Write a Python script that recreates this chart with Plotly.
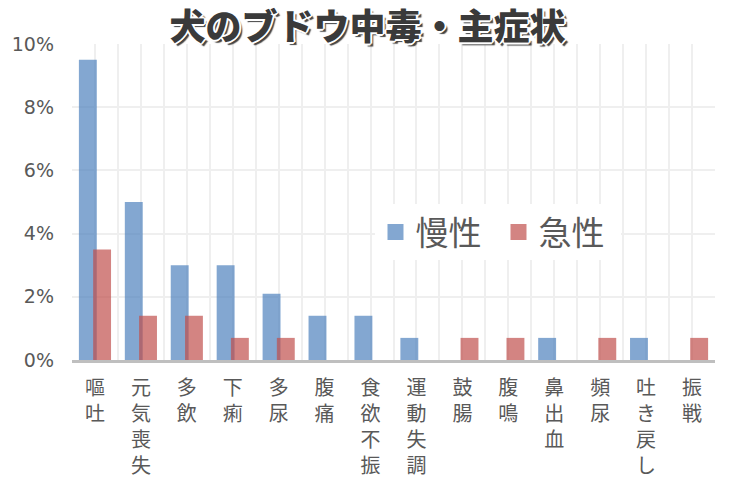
import plotly.graph_objects as go

categories = ["嘔吐", "元気喪失", "多飲", "下痢", "多尿", "腹痛", "食欲不振",
              "運動失調", "鼓腸", "腹鳴", "鼻出血", "頻尿", "吐き戻し", "振戦"]
chronic = [0.095, 0.050, 0.030, 0.030, 0.021, 0.014, 0.014,
           0.007, 0.0, 0.0, 0.007, 0.0, 0.007, 0.0]
acute = [0.035, 0.014, 0.014, 0.007, 0.007, 0.0, 0.0,
         0.0, 0.007, 0.007, 0.0, 0.007, 0.0, 0.007]
series_names = ["慢性", "急性"]
series_colors = ["rgba(79,129,189,0.7)", "rgba(192,80,77,0.7)"]
y_ticks = [0, 0.02, 0.04, 0.06, 0.08, 0.10]

positions = list(range(len(categories)))
vertical_labels = ["<br>".join(list(c)) for c in categories]

fig = go.Figure()
for vals, name, col, off in [(chronic, series_names[0], series_colors[0], -0.35),
                             (acute, series_names[1], series_colors[1], -0.04)]:
    fig.add_trace(go.Bar(
        x=positions, y=vals, name=name, showlegend=False,
        marker=dict(color=col, line=dict(width=0)),
        width=0.39, offset=off,
    ))
# legend proxies with larger square swatches
for name, col in zip(series_names, series_colors):
    fig.add_trace(go.Scatter(
        x=[None], y=[None], name=name, mode="markers",
        marker=dict(symbol="square", size=17, color=col),
    ))

grid = "#EFEFEF"
fig.update_layout(
    width=735, height=504,
    margin=dict(l=72, r=20, t=44, b=144),
    paper_bgcolor="white", plot_bgcolor="white",
    barmode="overlay",
    font=dict(family="Noto Sans CJK JP", color="#595959"),
    title=dict(
        text="犬のブドウ中毒・主症状",
        x=0.5, xref="container", xanchor="center",
        y=1 - 27 / 504, yref="container", yanchor="middle",
        font=dict(family="Noto Sans CJK JP", size=36, color="#3a3a3a", weight=900,
                  shadow="-1px -1px 0 #fff, 1px -1px 0 #fff, -1px 1px 0 #fff, 1px 1px 0 #fff, "
                         "-2px 0 0 #fff, 2px 0 0 #fff, 0 -2px 0 #fff, 0 2px 0 #fff, 3px 3px 1px #444"),
    ),
    legend=dict(
        orientation="h", x=0.472, y=0.405, xanchor="left", yanchor="middle",
        bgcolor="white", font=dict(size=33, color="#595959", family="Noto Sans CJK JP"),
        itemwidth=30, entrywidth=78, entrywidthmode="pixels",
    ),
    xaxis=dict(
        range=[-0.5, len(categories) - 0.5],
        tickvals=positions, ticktext=vertical_labels,
        tickfont=dict(size=20, color="#595959", family="Noto Sans CJK JP"),
        showgrid=True, gridcolor=grid, gridwidth=2,
        minor=dict(tick0=0.5, dtick=1, showgrid=True, gridcolor=grid, gridwidth=2),
        showline=True, linecolor="#BFBFBF", linewidth=3,
        ticks="", zeroline=False, tickangle=0,
        ticklabelstandoff=8,
    ),
    yaxis=dict(
        range=[0, 0.10], tickvals=y_ticks, tickformat=".0%",
        tickfont=dict(size=19, color="#595959", family="DejaVu Sans"),
        showgrid=True, gridcolor=grid, gridwidth=2,
        zeroline=False, showline=False, ticks="",
        ticklabelstandoff=17,
    ),
)

fig.write_html("out.html")
